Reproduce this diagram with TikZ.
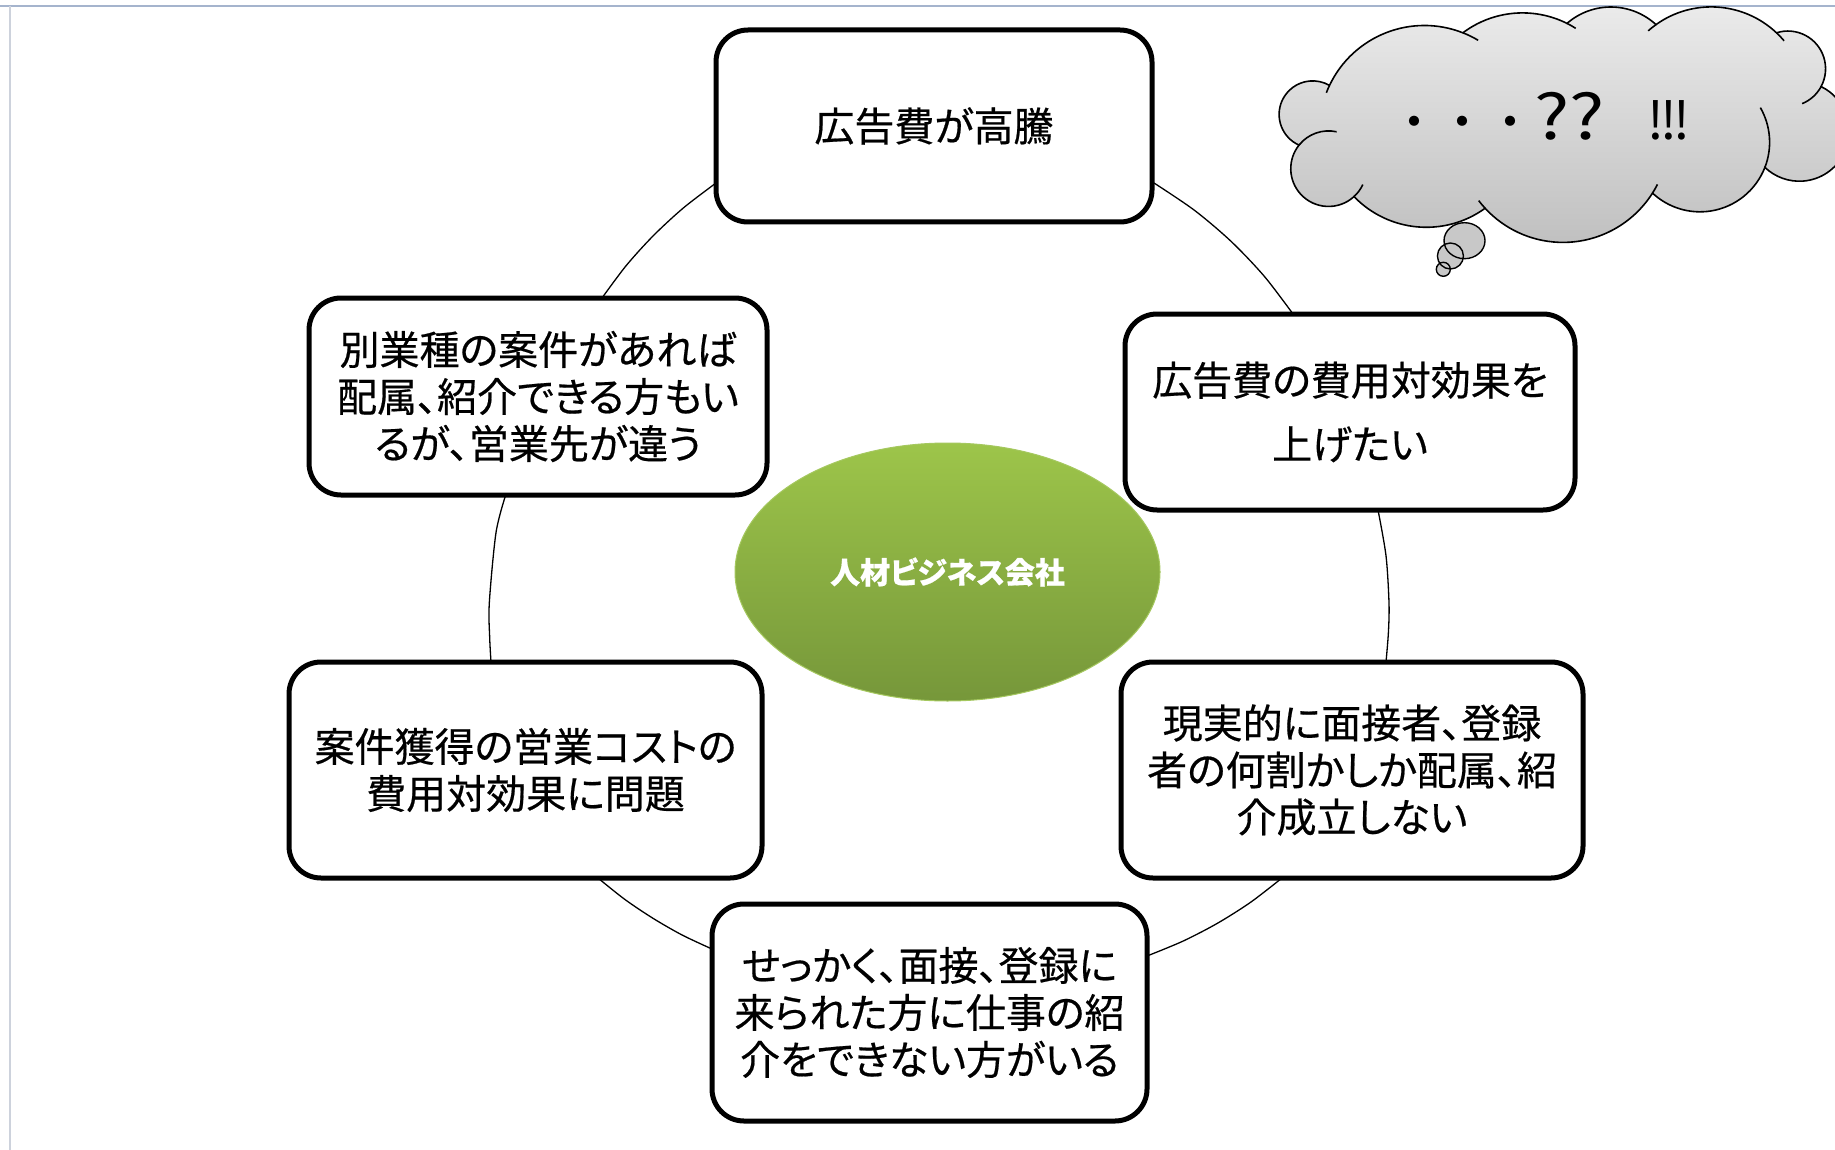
\documentclass[tikz,border=0pt]{standalone}
\usepackage{fontspec}
\usepackage{graphicx}
\setmainfont{Noto Sans CJK JP}[RawFeature=+palt, FakeBold=0.5]
\newfontfamily\jpfull{Noto Sans CJK JP}
\usetikzlibrary{shapes.geometric}
\definecolor{framec}{RGB}{165,180,205}
\definecolor{framel}{RGB}{205,210,220}
\definecolor{gtop}{RGB}{157,197,74}
\definecolor{gbot}{RGB}{118,151,58}
\definecolor{gline}{RGB}{165,200,95}
\definecolor{ctop}{RGB}{236,236,236}
\definecolor{cbot}{RGB}{192,192,192}
\definecolor{bubc}{RGB}{200,200,200}
\makeatletter
% circle through three points: start, middle, end -> radius, angles, centre
\newcommand\puffdef[7]{%
  \pgfmathsetmacro\pu@ub{((#4)-(#2))/100}%
  \pgfmathsetmacro\pu@vb{((#5)-(#3))/100}%
  \pgfmathsetmacro\pu@uc{((#6)-(#2))/100}%
  \pgfmathsetmacro\pu@vc{((#7)-(#3))/100}%
  \pgfmathsetmacro\pu@d{2*((\pu@ub)*(\pu@vc)-(\pu@uc)*(\pu@vb))}%
  \pgfmathsetmacro\pu@bb{(\pu@ub)*(\pu@ub)+(\pu@vb)*(\pu@vb)}%
  \pgfmathsetmacro\pu@cc{(\pu@uc)*(\pu@uc)+(\pu@vc)*(\pu@vc)}%
  \pgfmathsetmacro\pu@a{((\pu@vc)*(\pu@bb)-(\pu@vb)*(\pu@cc))/(\pu@d)}%
  \pgfmathsetmacro\pu@b{((\pu@ub)*(\pu@cc)-(\pu@uc)*(\pu@bb))/(\pu@d)}%
  \pgfmathsetmacro\pu@r{100*sqrt((\pu@a)*(\pu@a)+(\pu@b)*(\pu@b))}%
  \pgfmathsetmacro\pu@s{atan2(-(\pu@b),-(\pu@a))}%
  \pgfmathsetmacro\pu@m{atan2((\pu@vb)-(\pu@b),(\pu@ub)-(\pu@a))}%
  \pgfmathsetmacro\pu@e{atan2((\pu@vc)-(\pu@b),(\pu@uc)-(\pu@a))}%
  \pgfmathsetmacro\pu@mm{mod((\pu@m)-(\pu@s)+720,360)}%
  \pgfmathsetmacro\pu@ee{mod((\pu@e)-(\pu@s)+720,360)}%
  \pgfmathsetmacro\pu@dir{(\pu@mm)<(\pu@ee) ? 1 : -1}%
  \pgfmathsetmacro\pu@end{(\pu@mm)<(\pu@ee) ? (\pu@s)+(\pu@ee) : (\pu@s)+(\pu@ee)-360}%
  \pgfmathsetmacro\pu@cx{(#2)+100*(\pu@a)}%
  \pgfmathsetmacro\pu@cy{(#3)+100*(\pu@b)}%
  \expandafter\xdef\csname puff#1r\endcsname{\pu@r}%
  \expandafter\xdef\csname puff#1s\endcsname{\pu@s}%
  \expandafter\xdef\csname puff#1e\endcsname{\pu@end}%
  \expandafter\xdef\csname puff#1d\endcsname{\pu@dir}%
  \expandafter\xdef\csname puff#1x\endcsname{\pu@cx}%
  \expandafter\xdef\csname puff#1y\endcsname{\pu@cy}%
}
% short inner stroke continuing a puff arc beyond its start (b) or end (f)
\newcommand\puffext[3]{%
  \pgfmathsetmacro\pu@da{(#3)/(\csname puff#1r\endcsname)*57.2958}%
  \if#2b%
    \pgfmathsetmacro\pu@st{\csname puff#1s\endcsname}%
    \pgfmathsetmacro\pu@en{(\pu@st)-(\csname puff#1d\endcsname)*(\pu@da)}%
  \else
    \pgfmathsetmacro\pu@st{\csname puff#1e\endcsname}%
    \pgfmathsetmacro\pu@en{(\pu@st)+(\csname puff#1d\endcsname)*(\pu@da)}%
  \fi
  \draw[cloudline] ([shift={(\pu@st:\csname puff#1r\endcsname)}]\csname puff#1x\endcsname,\csname puff#1y\endcsname) arc[start angle=\pu@st, end angle=\pu@en, radius=\csname puff#1r\endcsname];%
}
\newcommand\puffarc[1]{arc[start angle=\csname puff#1s\endcsname, end angle=\csname puff#1e\endcsname, radius=\csname puff#1r\endcsname]}
\makeatother
% junctions and puff extremes of the thought cloud
\puffdef{A}{1299.0}{145.1}{1279.1}{114.7}{1329.5}{85.4}
\puffdef{B}{1329.5}{85.4}{1392.6}{30.4}{1462.9}{32.8}
\puffdef{C}{1462.9}{32.8}{1521.4}{12.9}{1567.0}{23.4}
\puffdef{D}{1567.0}{23.4}{1611.6}{7.0}{1656.0}{24.6}
\puffdef{E}{1656.0}{24.6}{1715.7}{7.0}{1776.5}{32.8}
\puffdef{F}{1776.5}{32.8}{1824.5}{59.7}{1821.1}{86.6}
\puffdef{G}{1821.1}{86.6}{1849.1}{128.7}{1764.9}{167.4}
\puffdef{H}{1764.9}{167.4}{1702.8}{211.8}{1652.5}{193.1}
\puffdef{I}{1652.5}{193.1}{1568.2}{242.3}{1485.1}{208.3}
\puffdef{K}{1485.1}{208.3}{1418.4}{227.0}{1354.0}{196.6}
\puffdef{L}{1354.0}{196.6}{1290.8}{170.9}{1299.0}{145.1}
\begin{document}
\begin{tikzpicture}[x=1pt,y=-1pt,
  box/.style={draw, line width=5pt, rounded corners=32pt, fill=white, align=center, inner sep=0pt, font=\fontsize{40}{47}\selectfont},
  arcline/.style={line width=1.3pt},
  hub/.style={ellipse, draw=gline, line width=1pt, top color=gtop, bottom color=gbot, text=white, font=\bfseries\fontsize{30}{36}\selectfont, inner sep=0pt},
  cloudline/.style={line width=1.6pt},
  bubble/.style={fill=bubc},
]
\useasboundingbox (0,0) rectangle (1835,1150);
\clip (0,0) rectangle (1835,1150);
\fill[white] (0,0) rectangle (1835,1150);
\draw[framec, line width=2pt] (0,6) -- (1835,6);
\draw[framel, line width=2pt] (10,6) -- (10,1150);

% ring segments between the boxes
\coordinate (tl1) at (602,298);
\coordinate (tl2) at (716,183);
\coordinate (tr1) at (1154,183);
\coordinate (tr2) at (1293,314);
\coordinate (r1) at (1378,510);
\coordinate (r2) at (1386,662);
\coordinate (br1) at (1282,878);
\coordinate (br2) at (1147,956);
\coordinate (bl1) at (598,878);
\coordinate (bl2) at (712,949);
\coordinate (l1) at (505.7,495);
\coordinate (l2) at (491,662);
\draw[arcline] plot[smooth] coordinates {(tl1) (626.1,265.7) (653.3,235.7) (683.3,208) (tl2)};
\draw[arcline] plot[smooth] coordinates {(tr1) (1194.3,210.2) (1231.1,241.4) (1264.2,276.2) (tr2)};
\draw[arcline] plot[smooth] coordinates {(r1) (1386,555.8) (1389,603) (1388.4,632.4) (r2)};
\draw[arcline] plot[smooth] coordinates {(br1) (1250.4,902.4) (1217.2,923.4) (1182.8,941.2) (br2)};
\draw[arcline] plot[smooth] coordinates {(bl1) (624.8,899.4) (653,918.3) (682.1,935) (bl2)};
\draw[arcline] plot[smooth] coordinates {(l1) (496,532.6) (489.3,603) (489.7,638) (l2)};

% boxes
\node[box, minimum width=436, minimum height=192] (top) at (934,126) {広告費が高騰};
\node[box, minimum width=450, minimum height=196, font=\fontsize{40}{64}\selectfont] (rt) at (1350,412) {広告費の費用対効果を\\上げたい};
\node[box, minimum width=462, minimum height=216] (rb) at (1352,770) {現実的に面接者、登録\\者の何割かしか配属、紹\\介成立しない};
\node[box, minimum width=435, minimum height=217] (bot) at (929.5,1012.5) {せっかく、面接、登録に\\来られた方に仕事の紹\\介をできない方がいる};
\node[box, minimum width=473, minimum height=216] (lb) at (525.5,770) {案件獲得の営業コストの\\費用対効果に問題};
\node[box, minimum width=458, minimum height=197] (lt) at (538,396.5) {別業種の案件があれば\\配属、紹介できる方もい\\るが、営業先が違う};

% hub
\node[hub, minimum width=425, minimum height=258] (hubn) at (947.5,572) {人材ビジネス会社};

% thought cloud
\path[draw, cloudline, top color=ctop, bottom color=cbot]
  (1299.0,145.1) \puffarc{A} \puffarc{B} \puffarc{C} \puffarc{D} \puffarc{E}
  \puffarc{F} \puffarc{G} \puffarc{H} \puffarc{I} \puffarc{K} \puffarc{L} -- cycle;
\puffext{L}{f}{42}
\puffext{B}{b}{8}
\puffext{B}{f}{17}
\puffext{C}{f}{10}
\puffext{E}{b}{10}
\puffext{E}{f}{11}
\puffext{F}{f}{26}
\puffext{H}{b}{62}
\puffext{I}{b}{10}
\puffext{I}{f}{10}
\puffext{L}{b}{15}
\node[anchor=base west, inner sep=0pt] (cltext) at (1390,140) {\jpfull\fontsize{48}{56}\selectfont ・・・\fontsize{62}{70}\selectfont\scalebox{1.2}[1]{??}\hspace{43pt}\fontsize{52}{60}\selectfont !\kern-4pt!\kern-4pt!};
\fill[bubble] (1464.5,240.7) ellipse [x radius=20.5, y radius=18];
\fill[bubble] (1450.4,256) circle [radius=13];
\fill[bubble] (1443.3,269.3) circle [radius=7];
\draw[line width=1.4pt] (1464.5,240.7) ellipse [x radius=20.5, y radius=18];
\draw[line width=1.4pt] (1450.4,256) circle [radius=13];
\draw[line width=1.4pt] (1443.3,269.3) circle [radius=7];
\end{tikzpicture}
\end{document}
